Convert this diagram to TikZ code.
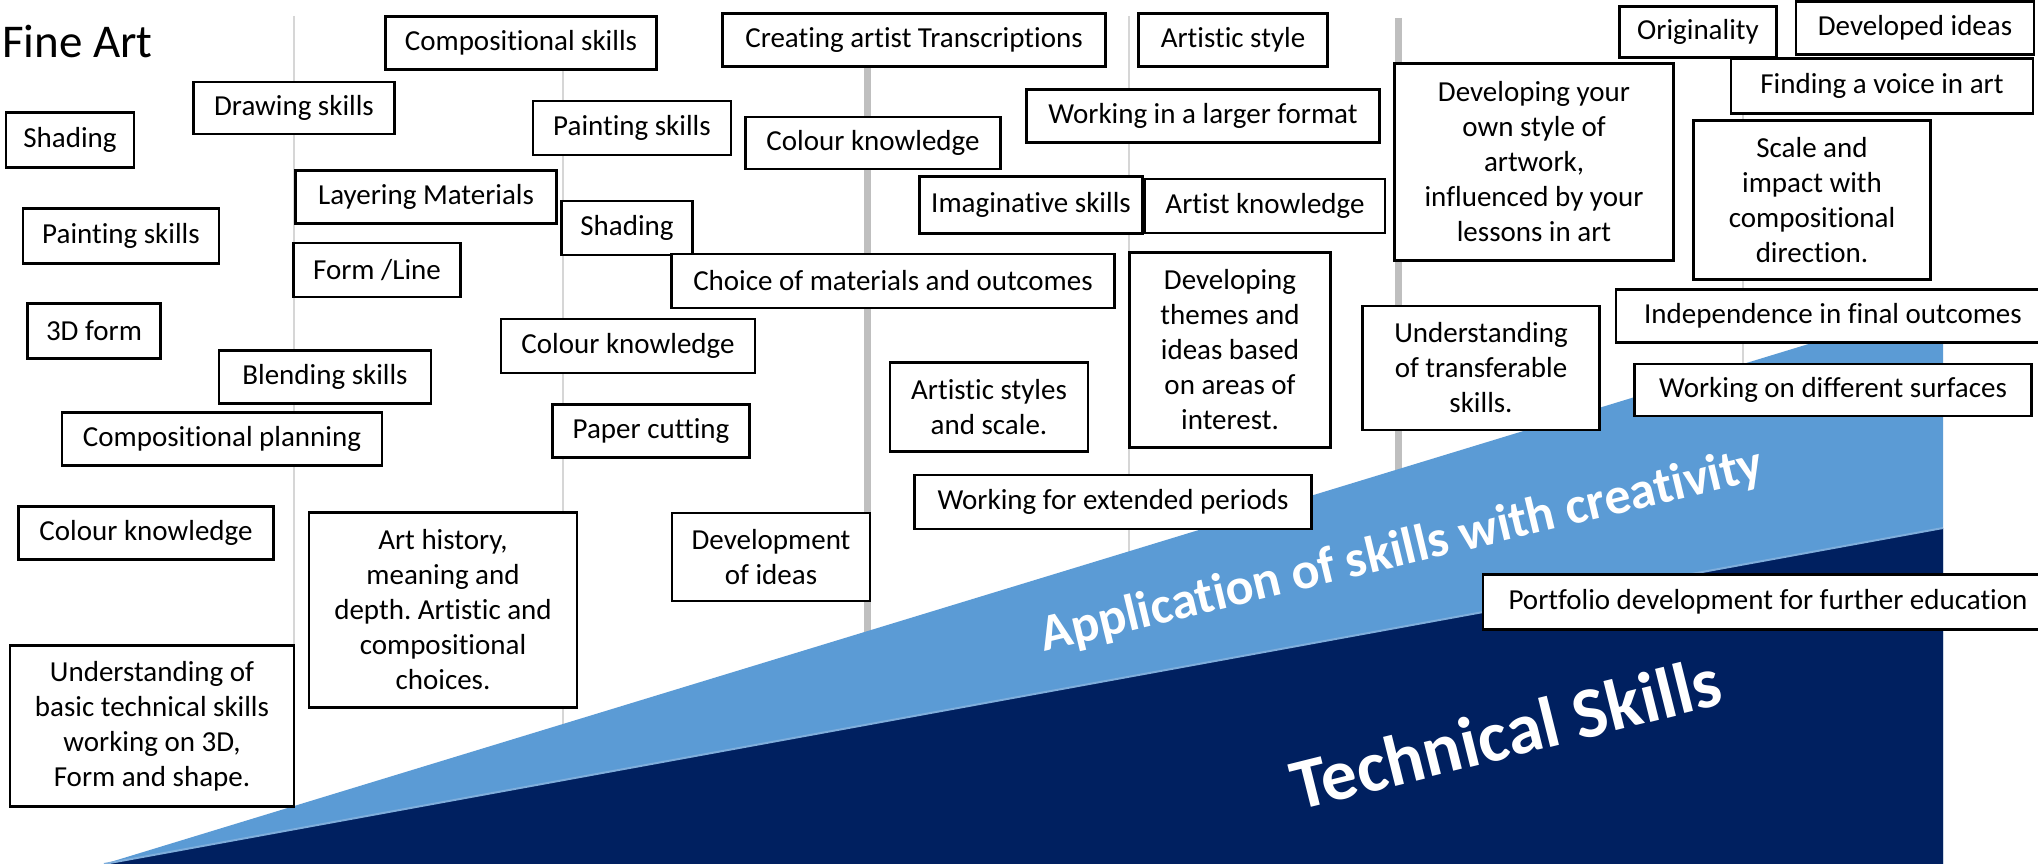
\documentclass[tikz,border=0pt]{standalone}
\usepackage{fontspec}
\setmainfont{Carlito}[Ligatures=CommonOff]
\frenchspacing
\definecolor{bandblue}{HTML}{5B9BD5}
\definecolor{navy}{HTML}{002060}
\definecolor{edgeblue}{HTML}{7FAEDC}
\definecolor{rulegray}{HTML}{BFBFBF}
\definecolor{thingray}{HTML}{D6D6D6}

\begin{document}
\begin{tikzpicture}[
    x=1pt, y=-1pt,
    skill_box/.style 2 args={draw=black, line width=2.5pt, fill=white, inner sep=0pt,
        align=center, minimum width=#1, minimum height=#2,
        font=\fontsize{29}{35}\selectfont},
    band_text/.style={text=white, anchor=base, inner sep=0pt},
    thin_rule/.style={thingray, line width=1.5pt},
    thick_rule/.style={rulegray, line width=7pt}
]
\fill[white] (0,0) rectangle (2038,864);
\useasboundingbox (0,0) rectangle (2038,864);

% Year dividers
\foreach \lx in {294,563,1129,1743}
    \draw[thin_rule] (\lx,16) -- (\lx,864);
\foreach \lx in {867,1398}
    \draw[thick_rule] (\lx,18) -- (\lx,864);

% Skill wedges
\fill[bandblue] (104,864) -- (1943,303) -- (1943,864) -- cycle;
\fill[navy] (104,864) -- (1943,528) -- (1943,864) -- cycle;
\draw[edgeblue, line width=2pt] (104,864) -- (1943,528);

\node[band_text, rotate=13.5, font=\bfseries\fontsize{52}{60}\selectfont] (creative) at (1405,565) {Application of skills with creativity};
\node[band_text, rotate=14, font=\bfseries\fontsize{72}{80}\selectfont] (technical) at (1512,757) {Technical Skills};

\node[anchor=base west, inner sep=0pt, font=\fontsize{47}{56}\selectfont] (title) at (2,58) {Fine Art};

% First column
\node[skill_box={128pt}{55pt}] (shade1) at (70,140) {Shading};
\node[skill_box={196pt}{55pt}] (paint1) at (121,236) {Painting skills};
\node[skill_box={133pt}{55pt}] (form3d) at (94,331) {3D form};
\node[skill_box={320pt}{53pt}] (compplan) at (222,439) {Compositional planning};
\node[skill_box={255pt}{53pt}] (colour1) at (146,533) {Colour knowledge};
\node[skill_box={284pt}{161pt}] (basics) at (152,726) {Understanding of\\basic technical skills\\working on 3D,\\Form and shape.};

% Second column
\node[skill_box={201pt}{52pt}] (drawing) at (294,108) {Drawing skills};
\node[skill_box={261pt}{53pt}] (layering) at (426,197) {Layering Materials};
\node[skill_box={167pt}{54pt}] (formline) at (377,270) {Form /Line};
\node[skill_box={212pt}{53pt}] (blending) at (325,377) {Blending skills};
\node[skill_box={268pt}{195pt}] (arthist) at (443,610) {Art history,\\meaning and\\depth. Artistic and\\compositional\\choices.};

% Third column
\node[skill_box={271pt}{53pt}] (compskills) at (521,43) {Compositional skills};
\node[skill_box={198pt}{54pt}] (paint2) at (632,128) {Painting skills};
\node[skill_box={131pt}{54pt}] (shade2) at (627,228) {Shading};
\node[skill_box={254pt}{54pt}] (colour2) at (628,346) {Colour knowledge};
\node[skill_box={197pt}{53pt}] (paper) at (651,431) {Paper cutting};
\node[skill_box={198pt}{88pt}] (devideas) at (771,557) {Development\\of ideas};

% Fourth column
\node[skill_box={383pt}{53pt}] (transcr) at (914,40) {Creating artist Transcriptions};
\node[skill_box={255pt}{52pt}] (colour3) at (873,143) {Colour knowledge};
\node[skill_box={443pt}{54pt}] (choice) at (893,281) {Choice of materials and outcomes};
\node[skill_box={240pt}{54pt}] (artknow) at (1265,206) {Artist knowledge};
\node[skill_box={223pt}{57pt}] (imagin) at (1031,205) {Imaginative skills};
\node[skill_box={198pt}{89pt}] (stylescale) at (989,407) {Artistic styles\\and scale.};
\node[skill_box={397pt}{54pt}] (extended) at (1113,502) {Working for extended periods};

% Fifth column
\node[skill_box={189pt}{53pt}] (artstyle) at (1233,40) {Artistic style};
\node[skill_box={353pt}{53pt}] (larger) at (1203,116) {Working in a larger format};
\node[skill_box={201pt}{195pt}] (themes) at (1230,350) {Developing\\themes and\\ideas based\\on areas of\\interest.};

% Sixth column
\node[skill_box={279pt}{197pt}] (ownstyle) at (1534,162) {Developing your\\own style of\\artwork,\\influenced by your\\lessons in art};
\node[skill_box={237pt}{124pt}] (transfer) at (1481,368) {Understanding\\of transferable\\skills.};
\node[skill_box={157pt}{51pt}] (original) at (1698,32) {Originality};
\node[skill_box={238pt}{53pt}] (developed) at (1915,28) {Developed ideas};
\node[skill_box={302pt}{55pt}] (voice) at (1882,86) {Finding a voice in art};
\node[skill_box={237pt}{159pt}] (impact) at (1812,200) {Scale and\\impact with\\compositional\\direction.};
\node[skill_box={434pt}{53pt}] (independ) at (1833,316) {Independence in final outcomes};
\node[skill_box={397pt}{52pt}] (surfaces) at (1833,390) {Working on different surfaces};
\node[skill_box={570pt}{55pt}] (portfolio) at (1768,602) {Portfolio development for further education};

\end{tikzpicture}
\end{document}
